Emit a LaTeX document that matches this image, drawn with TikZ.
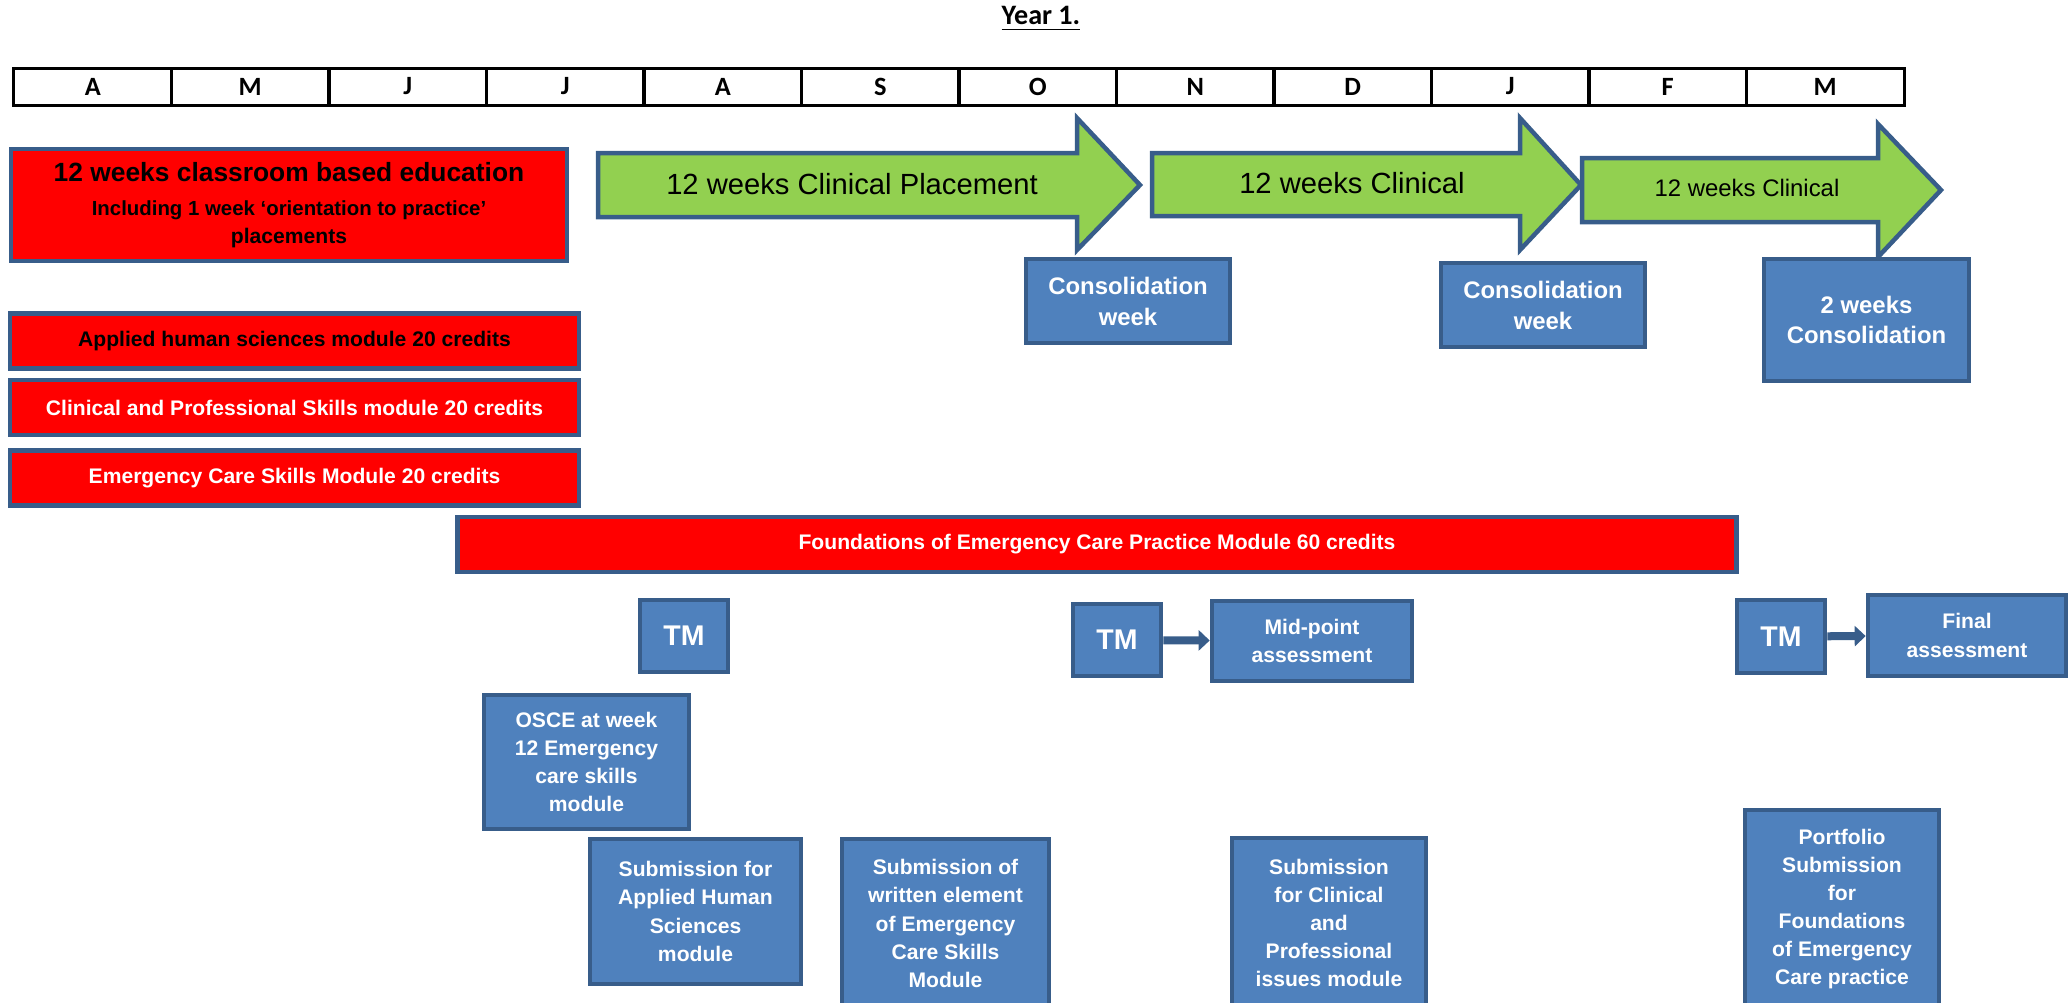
\documentclass[tikz,border=0pt]{standalone}
\usepackage{fontspec}
\setmainfont{Liberation Sans}
\newfontfamily\calibri{Carlito}
\usetikzlibrary{arrows.meta}
\definecolor{edgeblue}{HTML}{385D8A}
\definecolor{boxblue}{HTML}{4F81BD}
\definecolor{boxred}{HTML}{FF0000}
\definecolor{clingreen}{HTML}{92D050}
\tikzset{
  monthcell/.style={draw=black, line width=0.03cm, minimum width=1.575cm, minimum height=0.37cm,
    inner sep=0pt, font=\calibri\bfseries\fontsize{7.5}{9}\selectfont},
  box/.style={draw=edgeblue, line width=0.045cm, align=center, inner sep=0pt},
  redbox/.style={box, fill=boxred, font=\bfseries\fontsize{6}{8}\selectfont},
  bluebox/.style={box, fill=boxblue, text=white, font=\bfseries\fontsize{6}{8}\selectfont},
  greenarrow/.style={draw=edgeblue, line width=0.045cm, fill=clingreen, line join=miter},
  tmarrow/.style={draw=edgeblue, line width=0.08cm, -{Triangle[length=0.11cm, width=0.2cm]}}
}
\begin{document}
\begin{tikzpicture}[x=0.01cm, y=-0.01cm]
  \useasboundingbox (0,0) rectangle (2072,1002);
  \clip (0,0) rectangle (2072,1002);
  \node[font=\calibri\bfseries\fontsize{8}{10}\selectfont] (title) at (1041,19) {\underline{Year 1.}};
  \foreach \m [count=\i] in {A,M,J,J,A,S,O,N,D,J,F,M}
    \node[monthcell] (m\i) at ({14+157.5*(\i-0.5)},86.5) {\m};

  \node[redbox, minimum width=5.56cm, minimum height=1.12cm] (classroom) at (289,205)
    {{\fontsize{7.5}{9}\selectfont 12 weeks classroom based education}\\[1.6pt]
     \fontsize{5.8}{7.7}\selectfont Including 1 week ‘orientation to practice’\\ placements};
  \node[redbox, minimum width=5.69cm, minimum height=0.55cm] (ahs) at (294.5,341)
    {Applied human sciences module 20 credits};
  \node[redbox, text=white, minimum width=5.69cm, minimum height=0.55cm] (cps) at (294.5,407.5)
    {Clinical and Professional Skills module 20 credits};
  \node[redbox, text=white, minimum width=5.69cm, minimum height=0.55cm] (ecs) at (294.5,478)
    {Emergency Care Skills Module 20 credits};
  \node[redbox, text=white, minimum width=12.78cm, minimum height=0.55cm] (fecp) at (1097,544.5)
    {Foundations of Emergency Care Practice Module 60 credits};

  \draw[greenarrow] (598,153) -- (1077,153) -- (1077,118) -- (1140,185) -- (1077,250) -- (1077,217) -- (598,217) -- cycle;
  \draw[greenarrow] (1152,153) -- (1520,153) -- (1520,118) -- (1581,185) -- (1520,250) -- (1520,216) -- (1152,216) -- cycle;
  \draw[greenarrow] (1582,158) -- (1878,158) -- (1878,124) -- (1941,190) -- (1878,257) -- (1878,222) -- (1582,222) -- cycle;
  \node[font=\fontsize{8.3}{10}\selectfont] (place1) at (852,184) {12 weeks Clinical Placement};
  \node[font=\fontsize{8.3}{10}\selectfont] (place2) at (1352,183) {12 weeks Clinical};
  \node[font=\fontsize{6.8}{8}\selectfont] (place3) at (1747,187.5) {12 weeks Clinical};

  \node[bluebox, font=\bfseries\fontsize{6.8}{8.8}\selectfont, minimum width=2.04cm, minimum height=0.84cm] (cons1) at (1128,301)
    {Consolidation\\ week};
  \node[bluebox, font=\bfseries\fontsize{6.8}{8.8}\selectfont, minimum width=2.04cm, minimum height=0.84cm] (cons2) at (1543,305)
    {Consolidation\\ week};
  \node[bluebox, font=\bfseries\fontsize{6.8}{8.6}\selectfont, minimum width=2.05cm, minimum height=1.22cm] (cons3) at (1866.5,320)
    {2 weeks\\ Consolidation};

  \node[bluebox, font=\bfseries\fontsize{8.1}{10}\selectfont, minimum width=0.88cm, minimum height=0.72cm] (tm1) at (684,636) {TM};
  \node[bluebox, font=\bfseries\fontsize{8.1}{10}\selectfont, minimum width=0.88cm, minimum height=0.72cm] (tm2) at (1117,640) {TM};
  \node[bluebox, font=\bfseries\fontsize{8.1}{10}\selectfont, minimum width=0.88cm, minimum height=0.73cm] (tm3) at (1781,636.5) {TM};
  \node[bluebox, minimum width=2cm, minimum height=0.8cm] (mid) at (1312,641) {Mid-point\\ assessment};
  \node[bluebox, minimum width=1.98cm, minimum height=0.81cm] (final) at (1967,635.5) {Final\\ assessment};

  \node[bluebox, font=\bfseries\fontsize{6}{7.9}\selectfont, minimum width=2.05cm, minimum height=1.34cm] (osce) at (586.5,762)
    {OSCE at week\\ 12 Emergency\\ care skills\\ module};
  \node[bluebox, minimum width=2.11cm, minimum height=1.45cm] (subahs) at (695.5,911.5)
    {Submission for\\ Applied Human\\ Sciences\\ module};
  \node[bluebox, minimum width=2.07cm, minimum height=1.69cm] (subecs) at (945.5,923.5)
    {Submission of\\ written element\\ of Emergency\\ Care Skills\\ Module};
  \node[bluebox, minimum width=1.94cm, minimum height=1.7cm] (subcps) at (1329,923)
    {Submission\\ for Clinical\\ and\\ Professional\\ issues module};
  \node[bluebox, minimum width=1.94cm, minimum height=1.98cm] (portfolio) at (1842,909)
    {Portfolio\\ Submission\\ for\\ Foundations\\ of Emergency\\ Care practice};

  \begin{scope}[tmarrow]
    \draw (tm2) -- (mid);
    \draw (tm3) -- (final);
  \end{scope}
\end{tikzpicture}
\end{document}
